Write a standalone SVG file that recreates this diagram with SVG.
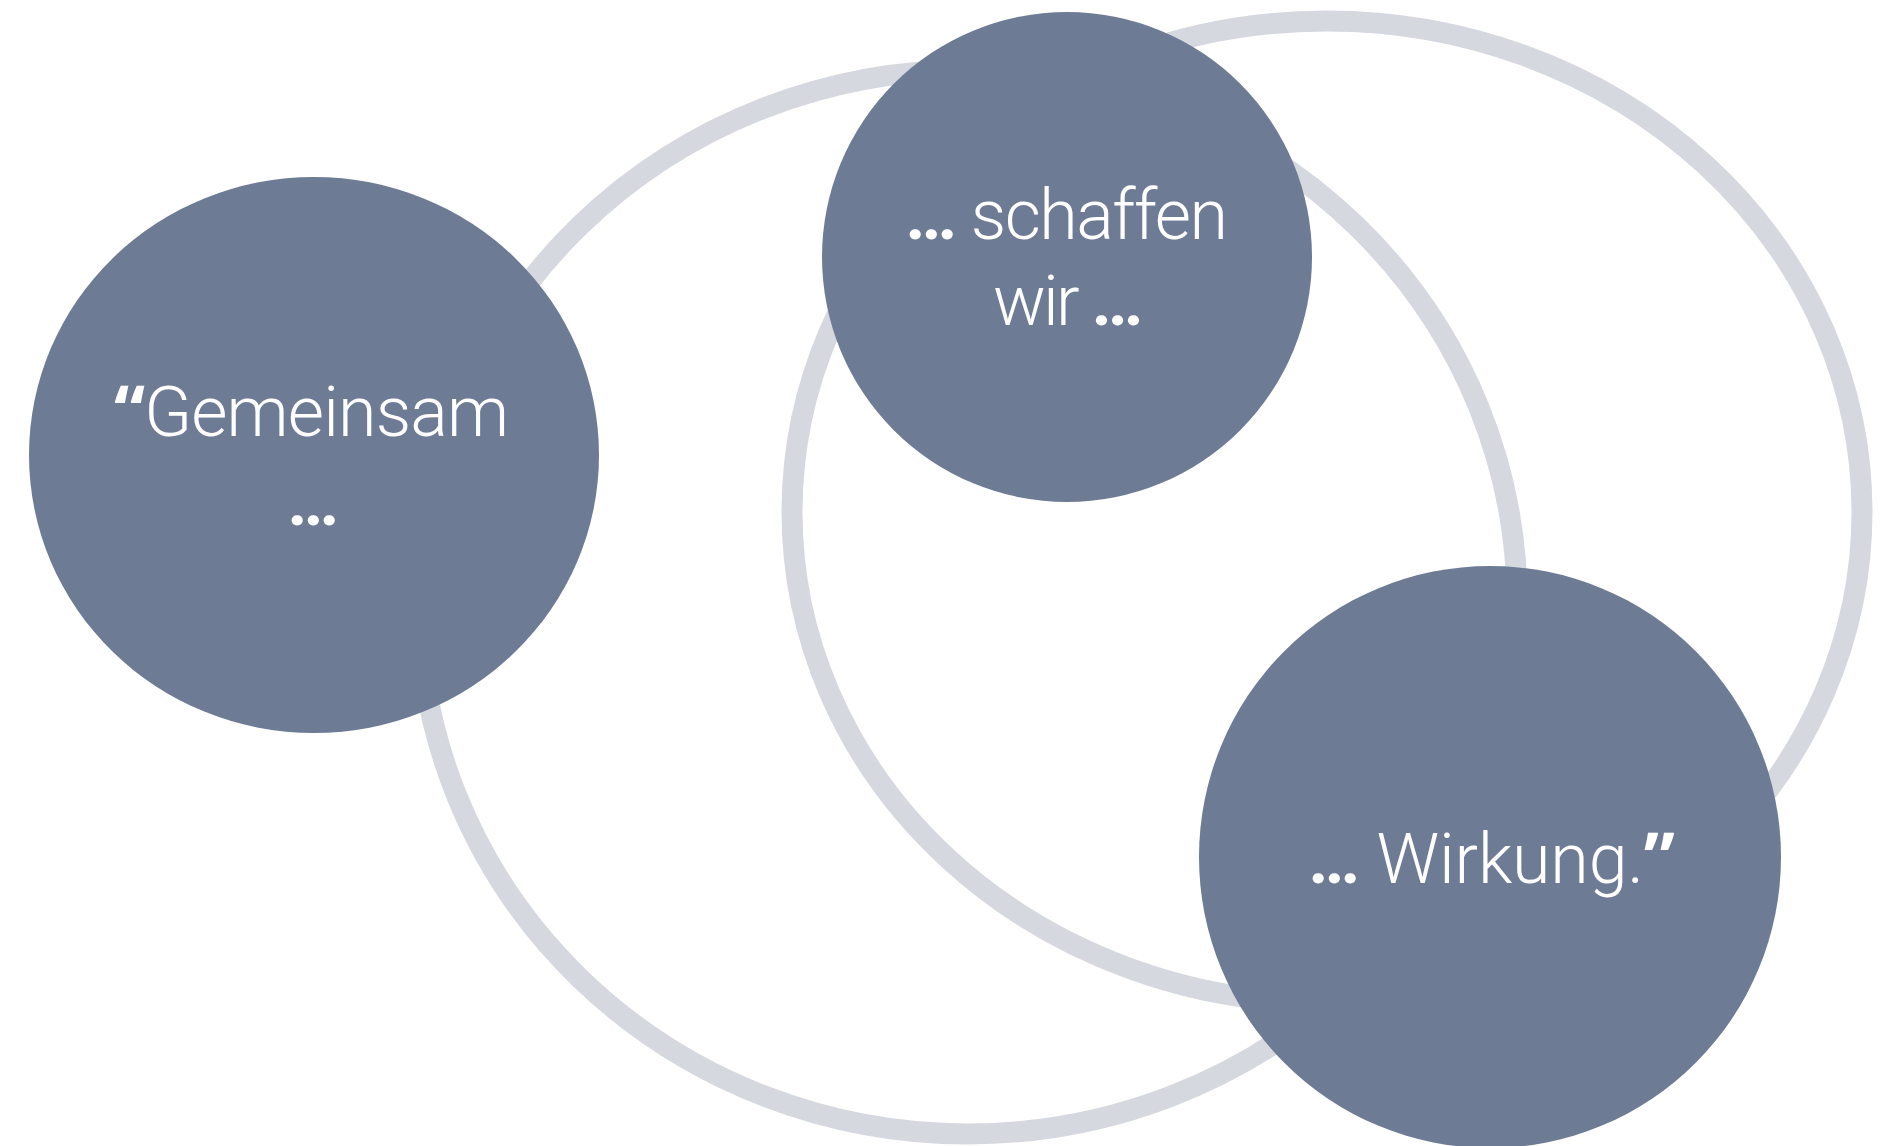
<svg xmlns="http://www.w3.org/2000/svg" width="1893" height="1146" viewBox="0 0 1893 1146">
<style>
.ring{fill:none;stroke:#d5d8df;stroke-width:21}
.node{fill:#6e7b95}
.t{font-family:Roboto,"Liberation Sans",sans-serif;font-weight:300;font-size:70px;fill:#ffffff}
.b{font-weight:700}
.q{font-family:"Open Sans",Roboto,sans-serif;font-weight:700}
</style>
<rect width="1893" height="1146" fill="#ffffff"/>
<g id="connectors">
<ellipse class="ring" cx="968" cy="602" rx="549" ry="532"/>
<ellipse class="ring" cx="1327" cy="512" rx="535" ry="491"/>
</g>
<g id="node-gemeinsam">
<ellipse class="node" cx="314" cy="455" rx="285" ry="278"/>
<text class="t" x="114" y="436" textLength="395" lengthAdjust="spacing"><tspan class="q">“</tspan>Gemeinsam</text>
<text class="t b" x="313" y="525" text-anchor="middle">…</text>
</g>
<g id="node-schaffen">
<circle class="node" cx="1067" cy="257" r="245"/>
<text class="t" x="905" y="239" textLength="323" lengthAdjust="spacing"><tspan class="b">…</tspan> schaffen</text>
<text class="t" x="993" y="325" textLength="150" lengthAdjust="spacing">wir <tspan class="b">…</tspan></text>
</g>
<g id="node-wirkung">
<circle class="node" cx="1490" cy="857" r="291"/>
<text class="t" x="1308" y="883" textLength="367" lengthAdjust="spacing"><tspan class="b">…</tspan> Wirkung.<tspan class="q">”</tspan></text>
</g>
</svg>
